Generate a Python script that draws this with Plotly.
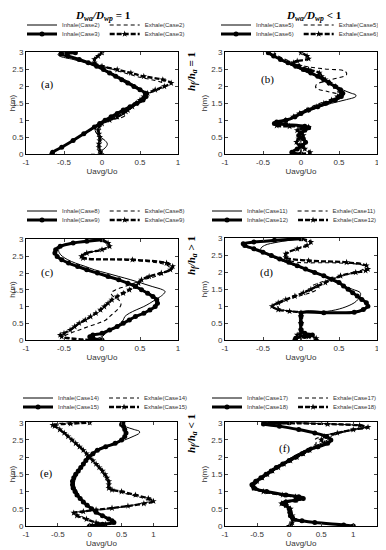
import plotly.graph_objects as go

# ---------------- data (h in m, u = Uavg/Uo) ----------------
# Panel (a): Case2 / Case3
a_in2_h = [0, 0.1, 0.2, 0.3, 0.4, 0.5, 0.6, 0.7, 0.8, 0.9, 1.0, 1.1, 1.2, 1.3, 1.4, 1.5, 1.6, 1.7, 1.8, 1.9, 2.0, 2.1, 2.2, 2.3, 2.4, 2.5, 2.6, 2.7, 2.8, 2.9, 2.95, 3.0]
a_in2_u = [-0.02, 0.0, 0.05, 0.07, 0.04, -0.02, -0.07, -0.09, -0.08, -0.03, 0.06, 0.15, 0.24, 0.33, 0.4, 0.45, 0.5, 0.55, 0.56, 0.52, 0.46, 0.38, 0.3, 0.22, 0.13, 0.03, -0.08, -0.22, -0.38, -0.56, -0.58, -0.48]
a_ex2_h = [0, 0.02, 0.1, 0.3, 0.5, 0.7, 0.85, 1.0, 1.1, 1.2, 1.3, 1.4, 1.5, 1.6, 1.7, 1.8, 1.9, 2.0, 2.1, 2.2, 2.3, 2.4, 2.5, 2.6, 2.7, 2.8, 2.9, 3.0]
a_ex2_u = [0.0, -0.64, -0.6, -0.45, -0.3, -0.15, -0.05, 0.1, 0.28, 0.33, 0.3, 0.35, 0.42, 0.5, 0.55, 0.62, 0.74, 0.82, 0.8, 0.65, 0.45, 0.3, 0.15, 0.0, -0.15, -0.3, -0.45, -0.5]
a_in3_h = [0, 0.05, 0.2, 0.4, 0.6, 0.8, 0.9, 1.0, 1.1, 1.2, 1.3, 1.4, 1.5, 1.6, 1.7, 1.8, 1.9, 2.0, 2.1, 2.2, 2.3, 2.4, 2.5, 2.6, 2.7, 2.8, 2.9, 2.96, 3.0]
a_in3_u = [-0.66, -0.65, -0.53, -0.38, -0.24, -0.1, -0.03, 0.04, 0.12, 0.2, 0.28, 0.37, 0.46, 0.54, 0.58, 0.57, 0.5, 0.42, 0.34, 0.26, 0.18, 0.1, 0.02, -0.07, -0.18, -0.3, -0.45, -0.54, -0.35]
a_ex3_h = [0, 0.1, 0.2, 0.3, 0.4, 0.5, 0.6, 0.7, 0.8, 0.9, 1.0, 1.1, 1.2, 1.3, 1.4, 1.5, 1.6, 1.7, 1.8, 1.9, 2.0, 2.1, 2.2, 2.3, 2.4, 2.5, 2.6, 2.7, 2.8, 2.9, 3.0]
a_ex3_u = [-0.01, -0.03, -0.04, -0.04, -0.03, -0.03, -0.04, -0.05, -0.04, 0.0, 0.1, 0.2, 0.28, 0.34, 0.4, 0.45, 0.5, 0.55, 0.6, 0.7, 0.82, 0.91, 0.8, 0.55, 0.38, 0.2, 0.0, -0.1, -0.1, -0.05, 0.0]

# Panel (b): Case5 / Case6
b_in5_h = [0, 0.2, 0.5, 0.8, 0.9, 1.0, 1.1, 1.2, 1.3, 1.4, 1.5, 1.6, 1.7, 1.75, 1.8, 1.9, 2.0, 2.1, 2.2, 2.3, 2.4, 2.5, 2.6, 2.7, 2.8, 2.9, 3.0]
b_in5_u = [0.0, 0.0, 0.0, 0.02, -0.25, -0.18, -0.08, 0.02, 0.12, 0.26, 0.4, 0.58, 0.72, 0.72, 0.66, 0.55, 0.47, 0.38, 0.3, 0.2, 0.1, 0.0, -0.1, -0.2, -0.28, -0.33, -0.35]
b_ex5_h = [0, 0.2, 0.5, 0.8, 0.85, 0.95, 1.1, 1.3, 1.5, 1.65, 1.75, 1.85, 1.95, 2.05, 2.2, 2.35, 2.45, 2.52, 2.6, 2.7, 2.8, 2.9, 3.0]
b_ex5_u = [0.0, 0.0, 0.0, 0.02, -0.3, -0.25, -0.1, 0.05, 0.25, 0.5, 0.5, 0.35, 0.2, 0.2, 0.4, 0.6, 0.58, 0.3, 0.05, -0.1, -0.2, -0.3, -0.35]
b_in6_h = [0, 0.05, 0.15, 0.25, 0.35, 0.45, 0.55, 0.62, 0.7, 0.78, 0.82, 0.87, 0.9, 0.95, 1.0, 1.1, 1.2, 1.3, 1.4, 1.5, 1.6, 1.7, 1.8, 1.9, 2.0, 2.1, 2.2, 2.3, 2.4, 2.5, 2.6, 2.7, 2.8, 2.9, 3.0]
b_in6_u = [0.0, -0.12, -0.05, 0.02, 0.06, 0.03, -0.03, 0.0, 0.05, 0.1, 0.05, -0.2, -0.35, -0.32, -0.2, -0.08, 0.0, 0.1, 0.22, 0.33, 0.45, 0.53, 0.55, 0.52, 0.45, 0.37, 0.3, 0.22, 0.13, 0.03, -0.07, -0.17, -0.27, -0.36, -0.43]
b_ex6_h = [0, 0.05, 0.15, 0.25, 0.35, 0.45, 0.55, 0.62, 0.7, 0.75, 0.8, 0.82, 0.84, 0.9, 1.0, 1.1, 1.2, 1.3, 1.4, 1.5, 1.6, 1.7, 1.8, 1.9, 2.0, 2.1, 2.2, 2.3, 2.4, 2.5, 2.6, 2.7, 2.75, 2.82, 2.9, 3.0]
b_ex6_u = [0.0, 0.12, 0.05, -0.02, -0.06, -0.03, 0.03, 0.0, -0.05, 0.0, 0.1, -0.15, -0.32, -0.3, -0.2, -0.1, -0.02, 0.08, 0.2, 0.3, 0.4, 0.48, 0.52, 0.5, 0.45, 0.38, 0.32, 0.27, 0.24, 0.1, -0.02, -0.1, -0.05, 0.1, 0.08, 0.0]

# Panel (c): Case8 / Case9
c_in8_h = [0, 0.1, 0.2, 0.3, 0.4, 0.5, 0.6, 0.7, 0.8, 0.9, 1.0, 1.1, 1.2, 1.3, 1.4, 1.45, 1.5, 1.6, 1.7, 1.8, 1.9, 2.0, 2.1, 2.2, 2.3, 2.4, 2.5, 2.6, 2.7, 2.8, 2.9, 3.0]
c_in8_u = [-0.15, 0.0, 0.05, 0.1, 0.18, 0.24, 0.28, 0.3, 0.36, 0.45, 0.55, 0.63, 0.7, 0.77, 0.82, 0.83, 0.8, 0.66, 0.52, 0.38, 0.22, 0.06, -0.1, -0.22, -0.35, -0.45, -0.52, -0.56, -0.57, -0.52, -0.38, -0.1]
c_ex8_h = [0, 0.05, 0.1, 0.2, 0.3, 0.4, 0.5, 0.6, 0.7, 0.8, 0.9, 1.0, 1.1, 1.2, 1.3, 1.4, 1.5, 1.6, 1.7, 1.8, 1.9, 2.0, 2.1, 2.2, 2.3, 2.4, 2.45, 2.5, 2.6, 2.7, 2.8, 2.9, 3.0]
c_ex8_u = [-0.15, -0.4, -0.5, -0.42, -0.3, -0.18, -0.05, 0.05, 0.1, 0.15, 0.2, 0.24, 0.25, 0.22, 0.15, 0.12, 0.18, 0.3, 0.42, 0.55, 0.7, 0.82, 0.88, 0.88, 0.75, 0.2, -0.2, -0.25, -0.18, -0.02, 0.08, 0.05, -0.05]
c_in9_h = [0, 0.05, 0.1, 0.15, 0.2, 0.3, 0.4, 0.5, 0.6, 0.7, 0.8, 0.9, 1.0, 1.1, 1.2, 1.3, 1.4, 1.5, 1.6, 1.7, 1.8, 1.9, 2.0, 2.1, 2.2, 2.3, 2.4, 2.5, 2.6, 2.7, 2.8, 2.9, 2.95, 3.0]
c_in9_u = [0.0, -0.12, -0.16, -0.12, 0.0, 0.1, 0.2, 0.28, 0.36, 0.44, 0.55, 0.63, 0.7, 0.73, 0.72, 0.67, 0.6, 0.52, 0.44, 0.34, 0.22, 0.08, -0.06, -0.2, -0.32, -0.44, -0.53, -0.59, -0.62, -0.61, -0.55, -0.38, -0.2, 0.0]
c_ex9_h = [0, 0.1, 0.15, 0.2, 0.3, 0.4, 0.5, 0.6, 0.7, 0.8, 0.9, 1.0, 1.1, 1.2, 1.3, 1.4, 1.5, 1.6, 1.7, 1.8, 1.9, 2.0, 2.1, 2.2, 2.3, 2.4, 2.45, 2.5, 2.6, 2.7, 2.8, 2.9, 3.0]
c_ex9_u = [-0.15, -0.53, -0.55, -0.5, -0.42, -0.36, -0.3, -0.22, -0.15, -0.08, -0.02, 0.03, 0.08, 0.13, 0.2, 0.28, 0.36, 0.43, 0.48, 0.52, 0.62, 0.78, 0.9, 0.93, 0.85, 0.4, -0.25, -0.27, -0.2, 0.0, 0.1, 0.08, 0.0]

# Panel (d): Case11 / Case12
d_in11_h = [0, 0.2, 0.8, 0.85, 0.95, 1.1, 1.2, 1.3, 1.4, 1.5, 1.6, 1.7, 1.8, 1.9, 2.0, 2.1, 2.2, 2.3, 2.4, 2.5, 2.6, 2.7, 2.8, 2.9, 3.0]
d_in11_u = [0.0, 0.0, 0.0, 0.35, 0.55, 0.7, 0.75, 0.78, 0.78, 0.68, 0.56, 0.46, 0.38, 0.28, 0.16, 0.04, -0.08, -0.2, -0.32, -0.42, -0.5, -0.53, -0.48, -0.3, 0.0]
d_ex11_h = [0, 0.8, 0.85, 0.95, 1.05, 1.15, 1.25, 1.35, 1.45, 1.55, 1.6, 1.7, 1.8, 1.9, 2.0, 2.1, 2.2, 2.28, 2.32, 2.45, 2.6, 2.75, 2.85, 3.0]
d_ex11_u = [0.0, 0.0, -0.15, -0.3, -0.3, -0.22, -0.1, 0.05, 0.18, 0.22, 0.15, 0.25, 0.4, 0.55, 0.7, 0.82, 0.82, 0.5, -0.1, -0.22, -0.15, 0.0, 0.1, 0.0]
d_in12_h = [0, 0.05, 0.1, 0.15, 0.2, 0.3, 0.5, 0.7, 0.8, 0.81, 0.82, 0.9, 1.0, 1.1, 1.2, 1.3, 1.4, 1.5, 1.6, 1.7, 1.8, 1.9, 2.0, 2.1, 2.2, 2.3, 2.4, 2.5, 2.6, 2.7, 2.8, 2.85, 2.9, 2.95, 3.0]
d_in12_u = [-0.08, -0.07, 0.05, 0.15, 0.05, 0.0, 0.0, 0.0, 0.0, 0.3, 0.7, 0.82, 0.88, 0.86, 0.8, 0.74, 0.68, 0.62, 0.56, 0.5, 0.4, 0.3, 0.18, 0.06, -0.05, -0.16, -0.28, -0.39, -0.5, -0.62, -0.74, -0.76, -0.62, -0.35, 0.0]
d_ex12_h = [0, 0.05, 0.1, 0.15, 0.2, 0.3, 0.5, 0.7, 0.8, 0.85, 0.9, 1.0, 1.1, 1.2, 1.3, 1.4, 1.5, 1.6, 1.7, 1.8, 1.9, 2.0, 2.05, 2.1, 2.2, 2.3, 2.35, 2.45, 2.55, 2.7, 2.8, 2.9, 3.0]
d_ex12_u = [0.2, 0.2, 0.1, -0.05, 0.0, 0.0, 0.0, 0.0, 0.0, -0.15, -0.3, -0.38, -0.3, -0.2, -0.08, 0.03, 0.13, 0.22, 0.32, 0.42, 0.52, 0.72, 0.85, 0.88, 0.86, 0.6, 0.1, -0.2, -0.2, -0.05, 0.08, 0.13, 0.0]

# Panel (e): Case14 / Case15
e_in14_h = [0, 0.1, 0.2, 0.4, 0.6, 0.8, 1.0, 1.2, 1.4, 1.6, 1.8, 2.0, 2.2, 2.3, 2.4, 2.5, 2.6, 2.7, 2.75, 2.8, 2.9, 3.0]
e_in14_u = [0.0, 0.35, 0.3, 0.12, -0.02, -0.13, -0.2, -0.24, -0.22, -0.16, -0.08, 0.0, 0.1, 0.2, 0.4, 0.55, 0.68, 0.78, 0.78, 0.7, 0.55, 0.5]
e_ex14_h = [0, 0.1, 0.2, 0.3, 0.38, 0.45, 0.5, 0.58, 0.65, 0.72, 0.8, 0.9, 1.0, 1.1, 1.3, 1.5, 1.7, 1.9, 2.0, 2.2, 2.4, 2.6, 2.8, 2.9, 2.95, 3.0]
e_ex14_u = [0.0, 0.05, -0.05, -0.15, -0.25, 0.05, 0.3, 0.6, 0.8, 0.95, 0.85, 0.65, 0.45, 0.3, 0.28, 0.22, 0.14, 0.05, 0.0, -0.1, -0.22, -0.33, -0.45, -0.52, -0.55, -0.1]
e_in15_h = [0, 0.05, 0.1, 0.15, 0.2, 0.3, 0.4, 0.5, 0.6, 0.7, 0.8, 0.9, 1.0, 1.1, 1.2, 1.3, 1.4, 1.5, 1.6, 1.7, 1.8, 1.9, 2.0, 2.1, 2.2, 2.3, 2.4, 2.5, 2.6, 2.7, 2.8, 2.9, 2.95, 3.0]
e_in15_u = [0.0, 0.2, 0.38, 0.35, 0.3, 0.2, 0.1, 0.03, -0.04, -0.1, -0.15, -0.2, -0.23, -0.26, -0.27, -0.27, -0.25, -0.22, -0.18, -0.14, -0.1, -0.06, -0.02, 0.05, 0.12, 0.25, 0.4, 0.5, 0.55, 0.57, 0.55, 0.53, 0.5, 0.52]
e_ex15_h = [0, 0.05, 0.1, 0.2, 0.3, 0.38, 0.42, 0.47, 0.52, 0.58, 0.65, 0.72, 0.8, 0.9, 1.0, 1.05, 1.1, 1.2, 1.3, 1.4, 1.5, 1.6, 1.7, 1.8, 1.9, 2.0, 2.1, 2.2, 2.3, 2.4, 2.5, 2.6, 2.7, 2.8, 2.9, 2.93, 2.97, 3.0]
e_ex15_u = [0.0, 0.25, 0.1, -0.05, -0.2, -0.25, -0.1, 0.1, 0.35, 0.6, 0.85, 1.0, 0.92, 0.72, 0.5, 0.35, 0.3, 0.3, 0.3, 0.27, 0.24, 0.2, 0.15, 0.1, 0.05, 0.0, -0.05, -0.1, -0.16, -0.22, -0.28, -0.34, -0.4, -0.47, -0.55, -0.58, -0.3, 0.0]

# Panel (f): Case17 / Case18
f_in17_h = [0, 0.1, 0.3, 0.5, 0.65, 0.8, 0.9, 1.0, 1.1, 1.2, 1.4, 1.6, 1.8, 2.0, 2.2, 2.3, 2.4, 2.5, 2.6, 2.7, 2.8, 2.85, 2.9, 2.95, 3.0]
f_in17_u = [0.05, 0.05, 0.02, 0.0, -0.08, 0.18, -0.05, -0.4, -0.55, -0.56, -0.42, -0.28, -0.12, 0.05, 0.25, 0.38, 0.5, 0.6, 0.65, 0.8, 1.05, 1.18, 1.15, 0.8, 0.1]
f_ex17_h = [0, 0.3, 0.5, 0.65, 0.8, 0.9, 1.0, 1.1, 1.2, 1.4, 1.6, 1.8, 2.0, 2.2, 2.4, 2.5, 2.6, 2.7, 2.8, 2.88, 2.93, 2.97, 3.0]
f_ex17_u = [0.0, 0.03, 0.02, -0.1, 0.2, -0.05, -0.35, -0.5, -0.52, -0.4, -0.25, -0.1, 0.05, 0.25, 0.42, 0.4, 0.5, 0.72, 0.98, 1.2, 1.05, 0.5, -0.3]
f_in18_h = [0, 0.03, 0.1, 0.15, 0.2, 0.3, 0.4, 0.5, 0.6, 0.65, 0.7, 0.75, 0.8, 0.85, 0.9, 1.0, 1.1, 1.2, 1.3, 1.4, 1.5, 1.6, 1.7, 1.8, 1.9, 2.0, 2.1, 2.2, 2.3, 2.4, 2.5, 2.6, 2.7, 2.8, 2.9, 2.96, 3.0]
f_in18_u = [1.0, 0.85, 0.4, 0.2, 0.06, 0.02, 0.01, 0.0, -0.05, -0.1, -0.05, 0.1, 0.22, 0.15, -0.05, -0.35, -0.55, -0.58, -0.52, -0.44, -0.36, -0.28, -0.2, -0.1, 0.0, 0.1, 0.2, 0.3, 0.45, 0.6, 0.65, 0.58, 0.4, 0.15, -0.15, -0.4, 0.0]
f_ex18_h = [0, 0.1, 0.2, 0.3, 0.5, 0.6, 0.65, 0.7, 0.75, 0.8, 0.85, 0.9, 1.0, 1.1, 1.2, 1.3, 1.4, 1.5, 1.6, 1.7, 1.8, 1.9, 2.0, 2.1, 2.2, 2.3, 2.4, 2.5, 2.6, 2.7, 2.8, 2.87, 2.92, 2.96, 3.0]
f_ex18_u = [0.0, 0.05, 0.08, 0.05, 0.02, -0.05, -0.12, -0.05, 0.1, 0.2, 0.1, -0.1, -0.4, -0.55, -0.55, -0.5, -0.42, -0.34, -0.26, -0.17, -0.08, 0.02, 0.12, 0.22, 0.32, 0.42, 0.55, 0.5, 0.55, 0.75, 1.0, 1.23, 1.1, 0.6, -0.4]

x_ticks = [-1, -0.5, 0, 0.5, 1]
x_tick_text = ["-1", "-0.5", "0", "0.5", "1"]
y_ticks = [0, 0.5, 1, 1.5, 2, 2.5, 3]
y_tick_text = ["0", "0.5", "1", "1.5", "2", "2.5", "3"]

# ---------------- layout helpers (page pixel -> paper) ----------------
OFF = 8                       # page body margin around the plot div
W, H = 386 - OFF, 550 - OFF
def px(x):
    return (x - OFF) / W
def py(y):
    return 1 - (y - OFF) / H

panels = [
    dict(tag="(a)", cases=("2", "3"), xr=[-1, 1], box=(26, 178, 52, 154),
         data=[(a_in2_h, a_in2_u), (a_ex2_h, a_ex2_u), (a_in3_h, a_in3_u), (a_ex3_h, a_ex3_u)],
         leg=(22, 25, 34), lab=(47, 85)),
    dict(tag="(b)", cases=("5", "6"), xr=[-1, 1], box=(225, 377, 52, 154),
         data=[(b_in5_h, b_in5_u), (b_ex5_h, b_ex5_u), (b_in6_h, b_in6_u), (b_ex6_h, b_ex6_u)],
         leg=(216, 25, 34), lab=(267, 80)),
    dict(tag="(c)", cases=("8", "9"), xr=[-1, 1], box=(26, 178, 239, 340),
         data=[(c_in8_h, c_in8_u), (c_ex8_h, c_ex8_u), (c_in9_h, c_in9_u), (c_ex9_h, c_ex9_u)],
         leg=(22, 211, 220), lab=(47, 273)),
    dict(tag="(d)", cases=("11", "12"), xr=[-1, 1], box=(225, 377, 238, 340),
         data=[(d_in11_h, d_in11_u), (d_ex11_h, d_ex11_u), (d_in12_h, d_in12_u), (d_ex12_h, d_ex12_u)],
         leg=(207, 211, 220), lab=(266, 273)),
    dict(tag="(e)", cases=("14", "15"), xr=[-1, 1.37], box=(26, 177, 422, 526),
         data=[(e_in14_h, e_in14_u), (e_ex14_h, e_ex14_u), (e_in15_h, e_in15_u), (e_ex15_h, e_ex15_u)],
         leg=(18, 398, 407), lab=(46, 473)),
    dict(tag="(f)", cases=("17", "18"), xr=[-1, 1.37], box=(225, 377, 422, 526),
         data=[(f_in17_h, f_in17_u), (f_ex17_h, f_ex17_u), (f_in18_h, f_in18_u), (f_ex18_h, f_ex18_u)],
         leg=(207, 398, 407), lab=(284, 448)),
]

fig = go.Figure()
layout = dict(width=W, height=H, margin=dict(l=0, r=0, t=0, b=0, autoexpand=False), autosize=False,
              plot_bgcolor="white", paper_bgcolor="white", annotations=[])

tick_font = dict(family="Liberation Sans, Arial", size=8, color="#333")
title_font = dict(family="Liberation Sans, Arial", size=8, color="#333")
leg_font = dict(family="Liberation Sans, Arial", size=6, color="#333")

styles = [
    dict(mode="lines", line=dict(color="black", width=1)),
    dict(mode="lines", line=dict(color="black", width=1.1, dash="4px,3px")),
    dict(mode="lines+markers", line=dict(color="black", width=3),
         marker=dict(symbol="circle", size=5, color="black")),
    dict(mode="lines+markers", line=dict(color="black", width=2.3, dash="5px,2px"),
         marker=dict(symbol="star", size=5, color="black")),
]

leg_idx = 0
for i, p in enumerate(panels):
    n = "" if i == 0 else str(i + 1)
    xa, ya = "x" + n, "y" + n
    x0, x1, y0, y1 = p["box"]
    layout["xaxis" + n] = dict(
        domain=[px(x0), px(x1)], range=p["xr"], anchor=ya,
        tickvals=x_ticks, ticktext=x_tick_text, ticks="inside", ticklen=3,
        showline=True, linecolor="black", linewidth=1, mirror="ticks",
        showgrid=False, zeroline=False, tickfont=tick_font,
        title=dict(text="Uavg/Uo", font=title_font, standoff=2))
    layout["yaxis" + n] = dict(
        domain=[py(y1), py(y0)], range=[0, 3.02], anchor=xa,
        tickvals=y_ticks, ticktext=y_tick_text, ticks="inside", ticklen=3,
        showline=True, linecolor="black", linewidth=1, mirror="ticks",
        showgrid=False, zeroline=False, tickfont=tick_font,
        title=dict(text="h(m)", font=title_font, standoff=2))
    ca, cb = p["cases"]
    names = ["Inhale(Case%s)" % ca, "Exhale(Case%s)" % ca,
             "Inhale(Case%s)" % cb, "Exhale(Case%s)" % cb]
    lx, ly1, ly2 = p["leg"]
    legs = []
    for r, yy in enumerate((ly1, ly2)):
        lid = "legend" if leg_idx == 0 else "legend%d" % (leg_idx + 1)
        leg_idx += 1
        layout[lid] = dict(x=px(lx), y=py(yy), xanchor="left", yanchor="middle",
                           orientation="h", font=leg_font, bgcolor="rgba(0,0,0,0)",
                           itemwidth=30, tracegroupgap=0, itemclick=False)
        legs.append(lid)
    for k, (hh, uu) in enumerate(p["data"]):
        st = styles[k]
        fig.add_trace(go.Scatter(
            x=uu, y=hh, xaxis=xa, yaxis=ya, name=names[k],
            legend=legs[k // 2], showlegend=True,
            line_shape="spline", **st))
    layout["annotations"].append(dict(
        text=p["tag"], x=px(p["lab"][0]), y=py(p["lab"][1]), xref="paper", yref="paper",
        xanchor="center", yanchor="middle", showarrow=False,
        font=dict(family="Liberation Serif, Times New Roman", size=11, color="black")))

serif_b = dict(family="Liberation Serif, Times New Roman", size=11, color="black")
def note(text, x, y, angle=0):
    return dict(text=text, x=px(x), y=py(y), xref="paper", yref="paper", showarrow=False,
                xanchor="center", yanchor="middle", textangle=angle, font=serif_b)

layout["annotations"] += [
    note("<b><i>D</i><sub><i>wa</i></sub><i>/D</i><sub><i>wp</i></sub> = 1</b>", 102, 16),
    note("<b><i>D</i><sub><i>wa</i></sub><i>/D</i><sub><i>wp</i></sub> &lt; 1</b>", 313, 16),
    note("<b><i>h</i><sub><i>f</i></sub><i>/h</i><sub><i>a</i></sub> = 1</b>", 192, 72, -90),
    note("<b><i>h</i><sub><i>f</i></sub><i>/h</i><sub><i>a</i></sub> &gt; 1</b>", 192, 256, -90),
    note("<b><i>h</i><sub><i>f</i></sub><i>/h</i><sub><i>a</i></sub> &lt; 1</b>", 192, 434, -90),
]

fig.update_layout(**layout)
fig.write_html("out.html")
